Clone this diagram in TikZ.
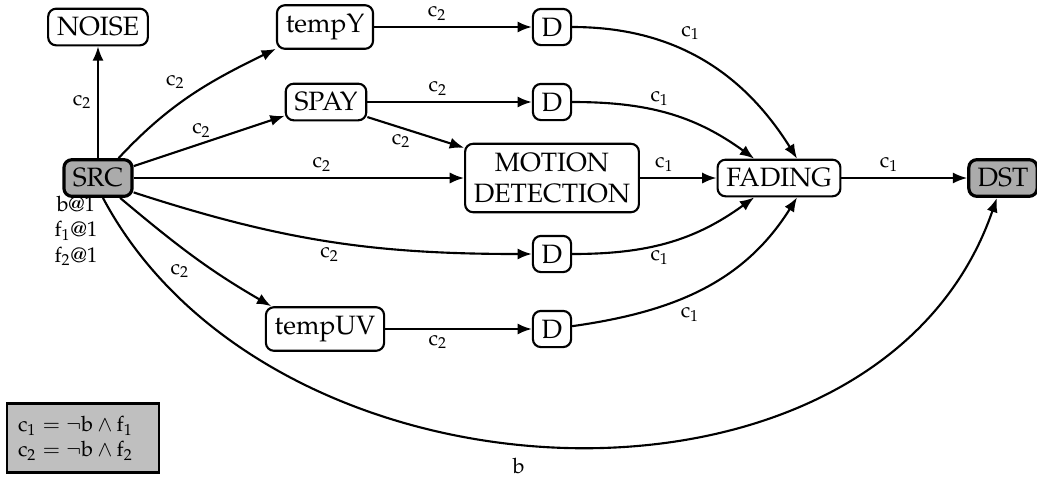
\documentclass[tikz,border=0pt]{standalone}
\usepackage[T1]{fontenc}
\IfFileExists{mathpazo.sty}{\usepackage{mathpazo}}{}
\usetikzlibrary{arrows.meta}
\tikzset{
  box/.style={draw,thick,rounded corners=3pt,inner sep=3.33pt},
  term/.style={box,very thick,fill=black!33},
  arr/.style={thick,-{Latex[length=5.4pt,width=4.2pt]}},
  lab/.style={font=\footnotesize,inner sep=2pt}
}
\newcommand{\vc}[1]{\mathrm{c}_{#1}}
\begin{document}
\begin{tikzpicture}[x=0.377pt,y=-0.377pt]
\useasboundingbox (0,0) rectangle (1037,477);
\node[box] (noise) at (98,27) {NOISE};
\node[term] (src) at (98,178) {SRC};
\node[box] (tempy) at (325,27) {tempY};
\node[box] (d1) at (552,27) {D};
\node[box] (spay) at (326,102) {SPAY};
\node[box] (d2) at (552,102) {D};
\node[box,align=center] (motion) at (552,178) {MOTION\\DETECTION};
\node[box] (fading) at (779,178) {FADING};
\node[term] (dst) at (1003,178) {DST};
\node[box] (d3) at (552,254) {D};
\node[box] (tempuv) at (325,329) {tempUV};
\node[box] (d4) at (552,329) {D};
\node[font=\footnotesize,align=center,inner sep=0pt] (srcnote) at (76,231) {$\mathrm{b}@1$\\[0pt]$\mathrm{f}_1@1$\\[0pt]$\mathrm{f}_2@1$};
\node[draw,thick,fill=black!25,font=\footnotesize,align=left,text width=49pt,inner xsep=4pt,minimum height=26pt] (legend) at (83,438) {$\vc1 = \neg \mathrm{b} \wedge \mathrm{f}_1$\\$\vc2 = \neg \mathrm{b} \wedge \mathrm{f}_2$};

\draw[arr] (src) -- node[lab,left] {$\vc2$} (noise);
\draw[arr] (src.44) to[out=47,in=206] node[lab,above left,pos=0.5] {$\vc2$} (tempy.204);
\draw[arr] (src) -- node[lab,above,pos=0.45] {$\vc2$} (spay);
\draw[arr] (src) -- node[lab,above,pos=0.57] {$\vc2$} (motion);
\draw[arr] (src.-22) to[out=-18,in=180] node[lab,below,pos=0.5] {$\vc2$} (d3);
\draw[arr] (src.-42) to[out=-40,in=150] node[lab,below left,pos=0.52] {$\vc2$} (tempuv.157);
\draw[arr] (src.-76) to[out=-62,in=251,looseness=1.04] node[lab,below=3pt,pos=0.455] {$\mathrm{b}$} (dst.-107);
\draw[arr] (tempy) -- node[lab,above,pos=0.4] {$\vc2$} (d1);
\draw[arr] (spay) -- node[lab,above,pos=0.43] {$\vc2$} (d2);
\draw[arr] (spay.-20) -- node[lab,below,pos=0.35] {$\vc2$} (motion.161);
\draw[arr] (tempuv) -- node[lab,below,pos=0.36] {$\vc2$} (d4);
\draw[arr] (motion) -- node[lab,above,pos=0.32] {$\vc1$} (fading);
\draw[arr] (fading) -- node[lab,above,pos=0.38] {$\vc1$} (dst);
\draw[arr] (d1) to[out=0,in=122] node[lab,above right,pos=0.38] {$\vc1$} (fading.47);
\draw[arr] (d2) to[out=0,in=144] node[lab,above,pos=0.45] {$\vc1$} (fading.142);
\draw[arr] (d3) to[out=0,in=-144] node[lab,below,pos=0.45] {$\vc1$} (fading.-142);
\draw[arr] (d4) to[out=8,in=-122] node[lab,below right,pos=0.38] {$\vc1$} (fading.-47);
\end{tikzpicture}
\end{document}
